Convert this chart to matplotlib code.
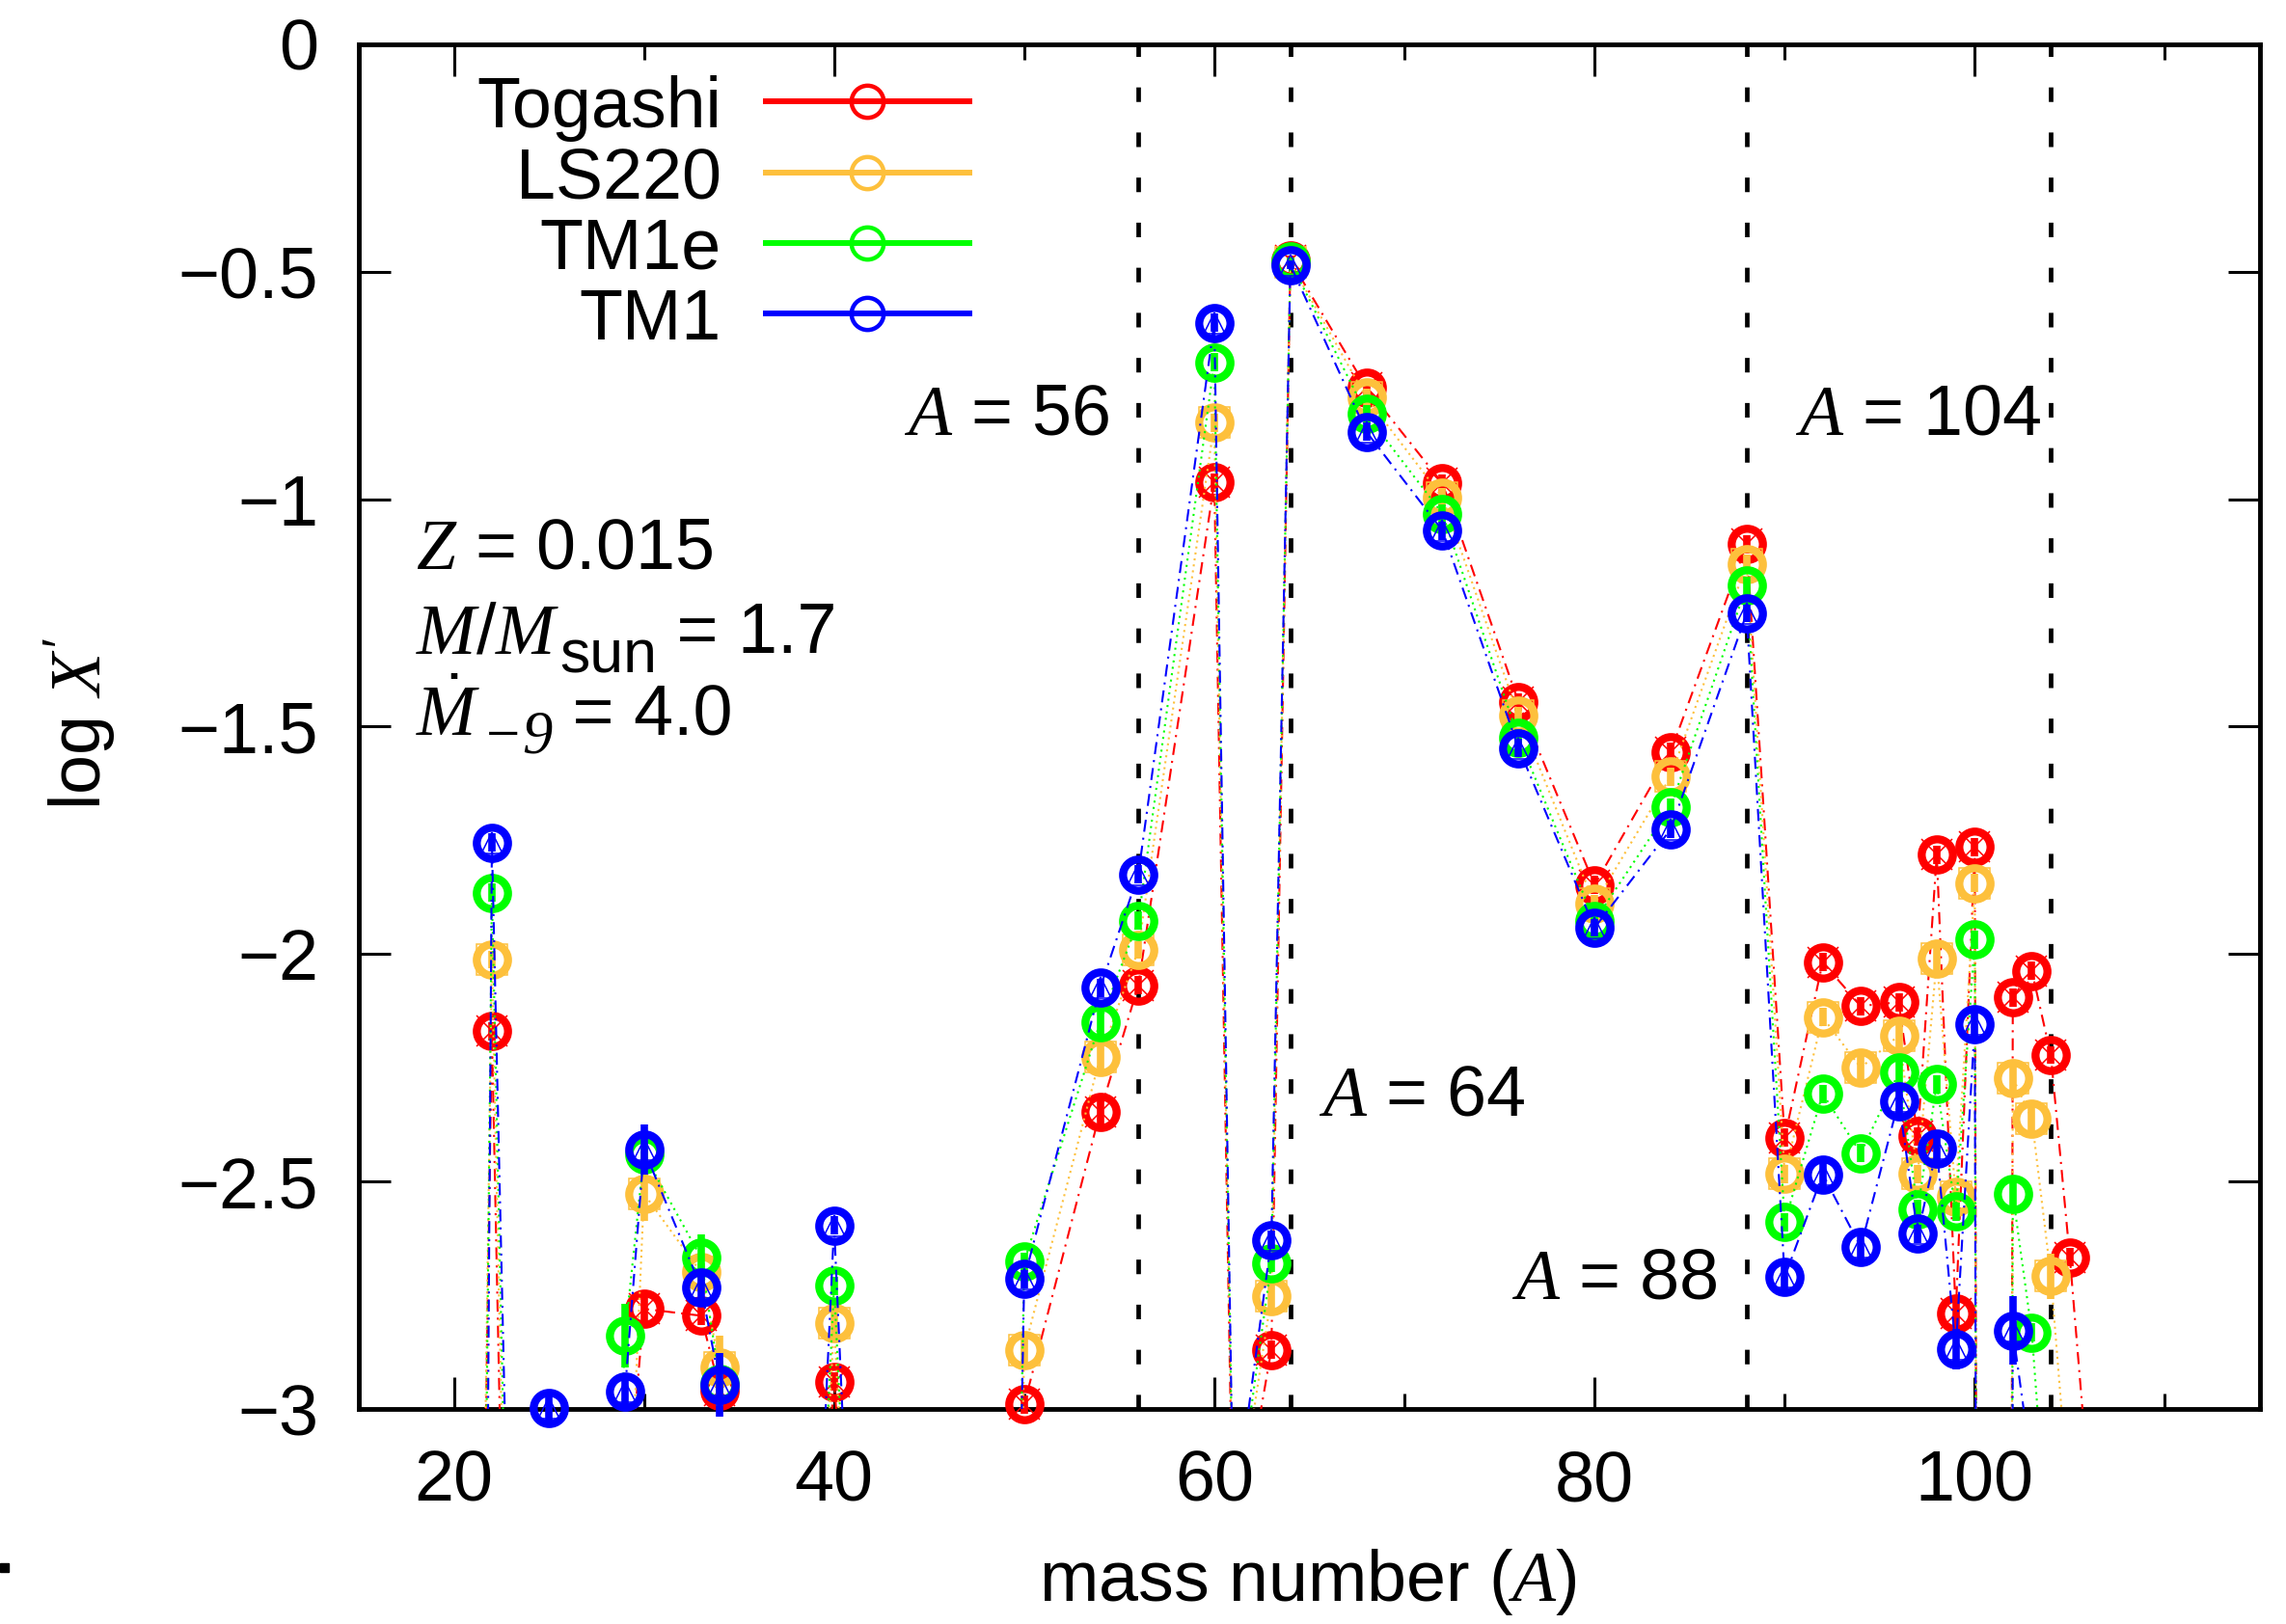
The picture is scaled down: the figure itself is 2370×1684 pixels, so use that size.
import numpy as np
import matplotlib
matplotlib.use('Agg')
import matplotlib.pyplot as plt
from matplotlib.lines import Line2D
from matplotlib.patches import Rectangle
from matplotlib.transforms import IdentityTransform

plt.rcParams['font.family'] = ['Liberation Sans', 'DejaVu Sans']
plt.rcParams['mathtext.fontset'] = 'custom'
plt.rcParams['mathtext.it'] = 'Liberation Serif:italic'
plt.rcParams['mathtext.rm'] = 'Liberation Sans'
plt.rcParams['mathtext.sf'] = 'Liberation Serif:italic'

# ---------------- data (log X' vs mass number A) ----------------
A_tog = [21, 22, 23, 29, 30, 33, 34, 35, 39, 40, 41, 49, 50, 54, 56, 60, 61, 63, 64,
         68, 72, 76, 80, 84, 88, 90, 92, 94, 96, 97, 98, 99, 100, 101, 102, 103, 104, 105, 106]
X_tog = [-4.9, -2.17, -4.2, -3.27, -2.78, -2.795, -2.96, -5.0, -3.5, -2.94, -3.5, -5.0, -2.99,
         -2.346, -2.069, -0.963, -3.35, -2.87, -0.475, -0.755, -0.965, -1.446, -1.848, -1.556,
         -1.099, -2.404, -2.018, -2.114, -2.106, -2.401, -1.782, -2.791, -1.765, -20.0, -2.095,
         -2.037, -2.222, -2.667, -3.17]
E_tog = [0, 0.02, 0, 0, 0.03, 0.02, 0.02, 0, 0, 0.02, 0, 0, 0.02, 0.03, 0.02, 0.02, 0, 0.02,
         0.01, 0.02, 0.02, 0.02, 0.02, 0.02, 0.02, 0.02, 0.02, 0.02, 0.02, 0.02, 0.02, 0.03,
         0.02, 0, 0.02, 0.02, 0.02, 0.02, 0]

A_ls = [21, 22, 23, 29, 30, 33, 34, 35, 39, 40, 41, 49, 50, 54, 56, 60, 61, 63, 64,
        68, 72, 76, 80, 84, 88, 90, 92, 94, 96, 97, 98, 99, 100, 101, 102, 103, 104, 105]
X_ls = [-5.0, -2.012, -4.0, -3.5, -2.527, -2.70, -2.908, -5.0, -3.6, -2.811, -3.6, -5.0,
        -2.870, -2.226, -1.991, -0.832, -3.3, -2.752, -0.48, -0.777, -0.996, -1.476, -1.89,
        -1.610, -1.142, -2.483, -2.139, -2.250, -2.179, -2.483, -2.011, -2.534, -1.844, -20.0,
        -2.272, -2.362, -2.708, -3.23]
E_ls = [0, 0.02, 0, 0, 0.06, 0.02, 0.07, 0, 0, 0.03, 0, 0, 0.03, 0.03, 0.02, 0.02, 0, 0.03,
        0.01, 0.02, 0.02, 0.02, 0.02, 0.02, 0.02, 0.02, 0.02, 0.03, 0.03, 0.02, 0.03, 0.02,
        0.02, 0, 0.03, 0.04, 0.05, 0]

A_tm1e = [21, 22, 23, 28, 29, 30, 33, 34, 35, 39, 40, 41, 49, 50, 54, 56, 60, 61, 63, 64,
          68, 72, 76, 80, 84, 88, 90, 92, 94, 96, 97, 98, 99, 100, 101, 102, 103, 104]
X_tm1e = [-6.0, -1.865, -3.8, -4.0, -2.839, -2.44, -2.667, -2.944, -5.0, -3.6, -2.729, -3.6,
          -5.0, -2.676, -2.149, -1.927, -0.699, -3.28, -2.680, -0.478, -0.813, -1.032, -1.525,
          -1.927, -1.677, -1.19, -2.589, -2.307, -2.438, -2.261, -2.561, -2.286, -2.566, -1.968,
          -20.0, -2.528, -2.832, -3.4]
E_tm1e = [0, 0.02, 0, 0, 0.07, 0.02, 0.05, 0.05, 0, 0, 0.02, 0, 0, 0.02, 0.03, 0.02, 0.02, 0,
          0.02, 0.01, 0.02, 0.02, 0.02, 0.02, 0.02, 0.02, 0.02, 0.02, 0.02, 0.03, 0.02, 0.02,
          0.02, 0.02, 0, 0.03, 0.02, 0]

A_tm1 = [21, 22, 23, 24, 25, 26, 28, 29, 30, 33, 34, 35, 39, 40, 41, 49, 50, 54, 56, 60, 61,
         63, 64, 68, 72, 76, 80, 84, 88, 90, 92, 94, 96, 97, 98, 99, 100, 101, 102, 103]
X_tm1 = [-8.0, -1.755, -3.6, -5.0, -2.997, -5.0, -4.0, -2.961, -2.430, -2.732, -2.948, -5.0,
         -3.5, -2.597, -3.53, -5.0, -2.714, -2.074, -1.825, -0.612, -3.25, -2.628, -0.485,
         -0.852, -1.069, -1.547, -1.942, -1.726, -1.251, -2.710, -2.484, -2.644, -2.323, -2.615,
         -2.428, -2.869, -2.155, -20.0, -2.828, -3.13]
E_tm1 = [0, 0.02, 0, 0, 0.03, 0, 0, 0.03, 0.055, 0.03, 0.07, 0, 0, 0.02, 0, 0, 0.02, 0.02,
         0.02, 0.02, 0, 0.02, 0.01, 0.02, 0.02, 0.02, 0.02, 0.02, 0.02, 0.03, 0.04, 0.04, 0.03,
         0.02, 0.03, 0.045, 0.04, 0, 0.075, 0]

names = ["Togashi", "LS220", "TM1e", "TM1"]
colors = ["#ff0000", "#fdc03c", "#00ff00", "#0000ff"]
mark_A = [56, 64, 88, 104]
xtick_vals = [20, 40, 60, 80, 100]
xminor_vals = [30, 50, 70, 90, 110]
ytick_vals = [-3, -2.5, -2, -1.5, -1, -0.5, 0]
ytick_labels = ["\u22123", "\u22122.5", "\u22122", "\u22121.5", "\u22121", "\u22120.5", "0"]

FS = 53

fig = plt.figure(figsize=(23.7, 16.84), dpi=100)
ax = fig.add_axes([0.15696, 0.13242, 0.83165, 0.84032])

series = [
    (A_tog, X_tog, E_tog, (0, (6, 3, 1, 3)), 'x', 23),
    (A_ls, X_ls, E_ls, (0, (1, 2)), 's', 23),
    (A_tm1e, X_tm1e, E_tm1e, (0, (1, 2.2)), None, 0),
    (A_tm1, X_tm1, E_tm1, (0, (6, 3, 1, 3)), '^', 16),
]

for i, (A, X, E, ls, inner, isz) in enumerate(series):
    col = colors[i]
    A = np.asarray(A, float)
    X = np.asarray(X, float)
    E = np.asarray(E, float)
    z = 3 + i
    ax.plot(A, X, color=col, lw=1.5, ls=ls, zorder=z)
    vis = X >= -3.05
    ax.vlines(A[vis], X[vis] - E[vis], X[vis] + E[vis], colors=col, lw=5.5,
              zorder=z + 0.2, clip_on=False)
    ax.plot(A[vis], X[vis], ls='none', marker='o', ms=23.3, mew=6, mfc='none',
            mec=col, zorder=z + 0.3, clip_on=False)
    if inner is not None:
        ax.plot(A[vis], X[vis], ls='none', marker=inner, ms=isz, mew=1.1, mfc='none',
                mec=col, zorder=z + 0.25, clip_on=False)

for a in mark_A:
    ax.axvline(a, color='black', lw=3.4, ls=(0, (3.2, 6.7)), zorder=2)

ax.set_xlim(15, 115)
ax.set_ylim(-3, 0)
ax.set_xticks(xtick_vals)
ax.set_xticklabels([str(v) for v in xtick_vals])
ax.set_xticks(xminor_vals, minor=True)
ax.set_yticks(ytick_vals)
ax.set_yticklabels(ytick_labels)
ax.tick_params(which='both', direction='in', top=True, right=True, width=2.2)
ax.tick_params(which='major', length=24, labelsize=FS)
ax.tick_params(which='minor', length=11.5)
ax.tick_params(axis='y', which='major', pad=30)
ax.tick_params(axis='x', which='major', pad=30)
for sp in ax.spines.values():
    sp.set_linewidth(3.5)

# axis labels
ax.text(-0.1466, 0.502, r"log $X'$", transform=ax.transAxes, rotation=90,
        ha='center', va='center', fontsize=FS)
ax.text(0.499, -0.1265, r"mass number ($A$)", transform=ax.transAxes,
        ha='center', va='center', fontsize=FS)

# annotations
ax.text(54.5, -0.857, r"$A$ = 56", ha='right', va='baseline', fontsize=FS)
ax.text(103.5, -0.857, r"$A$ = 104", ha='right', va='baseline', fontsize=FS)
ax.text(65.5, -2.354, r"$A$ = 64", ha='left', va='baseline', fontsize=FS)
ax.text(86.5, -2.757, r"$A$ = 88", ha='right', va='baseline', fontsize=FS)
ax.text(18.0, -1.152, r"$Z$ = 0.015", ha='left', va='baseline', fontsize=FS)

renderer = fig.canvas.get_renderer()


def chain(x, y, pieces):
    """Place text pieces one after another (gnuplot enhanced-text style)."""
    px, py = ax.transData.transform((x, y))
    for txt, scale, drop in pieces:
        t = ax.text(px, py - drop * FS * fig.dpi / 72.0, txt, transform=IdentityTransform(),
                    ha='left', va='baseline', fontsize=FS * scale)
        bb = t.get_window_extent(renderer)
        px = bb.x1


chain(18.0, -1.338, [(r"$M/M$", 1.0, 0.0), ("sun", 0.85, 0.28), (" = 1.7", 1.0, 0.0)])
chain(18.0, -1.52, [(r"$\dot{M}$", 1.0, 0.0), (r"$\mathsf{-9}$", 0.85, 0.24),
                    (" = 4.0", 1.0, 0.0)])

# legend (drawn by hand, gnuplot style)
for i, name in enumerate(names):
    y = 0.9579 - i * 0.05163
    ax.text(0.1908, y - 0.019, name, transform=ax.transAxes, ha='right',
            va='baseline', fontsize=FS)
    ax.add_line(Line2D([0.2139, 0.3212], [y, y], transform=ax.transAxes,
                       color=colors[i], lw=4.3, zorder=10))
    ax.plot([0.2675], [y], transform=ax.transAxes, ls='none', marker='o', ms=24,
            mew=3.2, mfc='none', mec=colors[i], zorder=11)

fig.add_artist(Rectangle((0, 0.0321), 9 / 2370, 9 / 1684, transform=fig.transFigure,
                         color='black'))

fig.savefig('out.png', dpi=100)
